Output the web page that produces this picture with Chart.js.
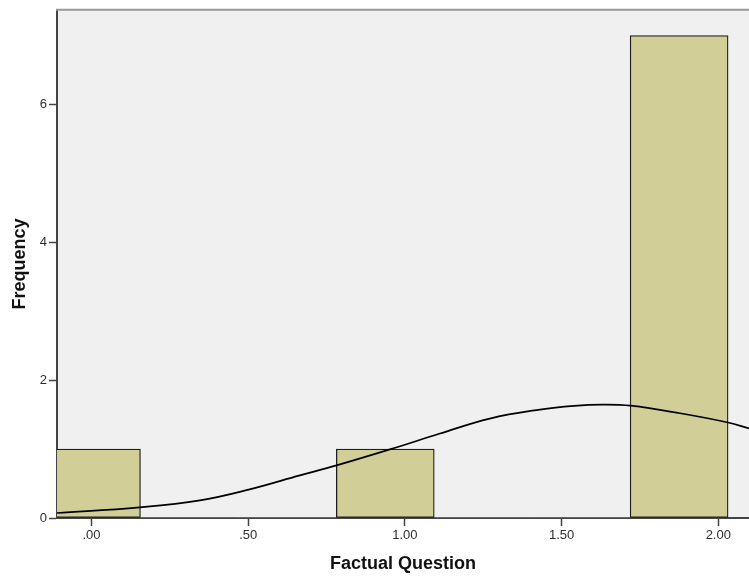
<!DOCTYPE html>
<html>
<head>
<meta charset="utf-8">
<title>Factual Question</title>
<script src="https://cdn.jsdelivr.net/npm/chart.js@4/dist/chart.umd.min.js"></script>
<style>
  html, body { margin: 0; padding: 0; background: #ffffff; }
  #wrap { width: 749px; height: 579px; }
</style>
</head>
<body>
<div id="wrap"><canvas id="hist" width="749" height="579"></canvas></div>
<script>
// Histogram bins (bin centres) and their counts
const binCenters = [0, 0.3125, 0.625, 0.9375, 1.25, 1.5625, 1.875];
const binCounts  = [1, 0, 0, 1, 0, 0, 7];

// Fitted normal curve, sampled along the x axis
const curveX = [-0.112, 0.154, 0.346, 0.505, 0.665, 0.782, 0.952, 1.112, 1.271, 1.431, 1.540, 1.630, 1.720, 1.878, 2.031, 2.098];
const curveY = [0.072, 0.155, 0.256, 0.416, 0.618, 0.763, 0.995, 1.226, 1.443, 1.574, 1.628, 1.646, 1.630, 1.520, 1.386, 1.300];

// Axis ticks
const xTickValues = [0, 0.5, 1, 1.5, 2];
const xTickLabels = ['.00', '.50', '1.00', '1.50', '2.00'];
const yTickValues = [0, 2, 4, 6];
const yTickLabels = ['0', '2', '4', '6'];

const FONT = "'Liberation Sans', Arial, sans-serif";

const plotFrame = {
  id: 'plotFrame',
  beforeDraw(chart) {
    const { ctx, chartArea: a } = chart;
    ctx.save();
    ctx.fillStyle = '#ffffff';
    ctx.fillRect(0, 0, chart.width, chart.height);
    ctx.fillStyle = '#f0f0f0';
    ctx.fillRect(a.left, a.top, a.right - a.left, a.bottom - a.top);
    ctx.restore();
  },
  afterDraw(chart) {
    const { ctx, chartArea: a } = chart;
    ctx.save();
    ctx.strokeStyle = '#999999';
    ctx.lineWidth = 2;
    ctx.beginPath();
    ctx.moveTo(a.left - 1, a.top);
    ctx.lineTo(a.right, a.top);
    ctx.stroke();
    ctx.restore();
  }
};

new Chart(document.getElementById('hist'), {
  type: 'bar',
  data: {
    datasets: [
      {
        type: 'line',
        order: 0,
        data: curveX.map((x, i) => ({ x: x, y: curveY[i] })),
        borderColor: '#000000',
        borderWidth: 1.7,
        pointRadius: 0,
        tension: 0.4,
        fill: false
      },
      {
        type: 'bar',
        order: 1,
        data: binCenters.map((x, i) => ({ x: x, y: binCounts[i] })),
        backgroundColor: '#d2ce98',
        borderColor: '#1e1e1e',
        borderWidth: ctx => (ctx.raw && ctx.raw.y > 0 ? 1.3 : 0),
        borderSkipped: false,
        barPercentage: 1,
        categoryPercentage: 1
      }
    ]
  },
  options: {
    responsive: false,
    animation: false,
    events: [],
    layout: { padding: { top: 8, right: 0, bottom: 0, left: 0 } },
    plugins: {
      legend: { display: false },
      tooltip: { enabled: false },
      title: { display: false }
    },
    scales: {
      x: {
        type: 'linear',
        min: -0.11,
        max: 2.098,
        offset: false,
        afterFit(scale) { scale.height = 61; },
        afterBuildTicks(scale) { scale.ticks = xTickValues.map(v => ({ value: v })); },
        grid: {
          offset: false,
          drawOnChartArea: false,
          drawTicks: true,
          tickLength: 8,
          tickColor: '#444444',
          tickWidth: 1.5
        },
        border: { display: true, color: '#444444', width: 2 },
        ticks: {
          padding: 2,
          color: '#2e2e2e',
          font: { family: FONT, size: 13 },
          maxRotation: 0,
          autoSkip: false,
          callback: (v) => {
            const i = xTickValues.indexOf(v);
            return i >= 0 ? xTickLabels[i] : '';
          }
        },
        title: {
          display: true,
          text: 'Factual Question',
          color: '#111111',
          font: { family: FONT, size: 18, weight: 'bold' },
          padding: { top: 0, bottom: 4 }
        }
      },
      y: {
        type: 'linear',
        min: 0,
        max: 7.375,
        afterFit(scale) { scale.width = 57; },
        afterBuildTicks(scale) { scale.ticks = yTickValues.map(v => ({ value: v })); },
        grid: {
          drawOnChartArea: false,
          drawTicks: true,
          tickLength: 8,
          tickColor: '#444444',
          tickWidth: 1.5
        },
        border: { display: true, color: '#444444', width: 2 },
        ticks: {
          padding: 2,
          color: '#2e2e2e',
          font: { family: FONT, size: 13 },
          autoSkip: false,
          callback: (v) => {
            const i = yTickValues.indexOf(v);
            return i >= 0 ? yTickLabels[i] : '';
          }
        },
        title: {
          display: true,
          text: 'Frequency',
          color: '#111111',
          font: { family: FONT, size: 18, weight: 'bold' },
          padding: { top: 9, bottom: 0 }
        }
      }
    }
  },
  plugins: [plotFrame]
});
</script>
</body>
</html>
